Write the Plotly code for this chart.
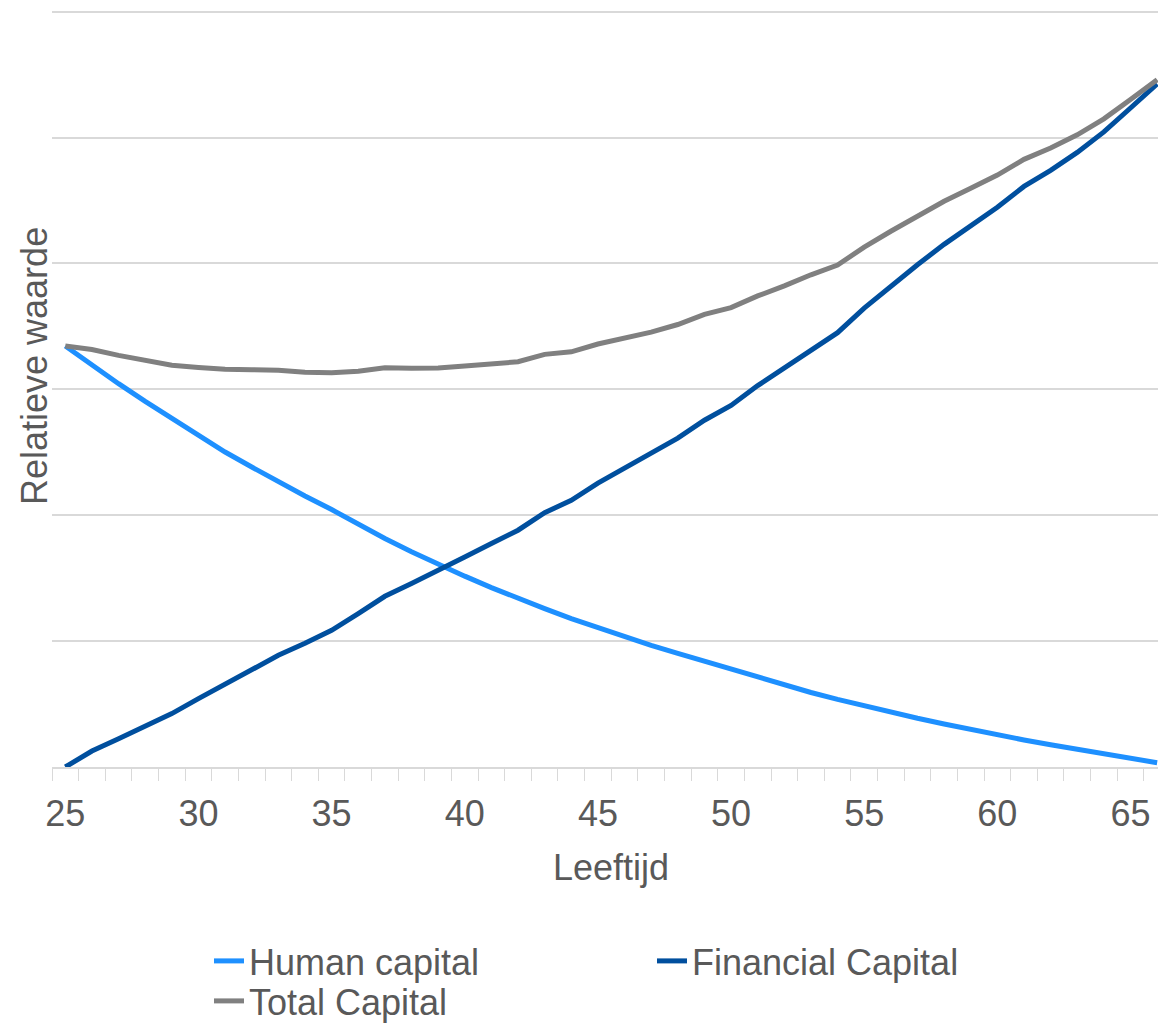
import plotly.graph_objects as go

# ---- data ----
ages = list(range(25, 67))
human_capital = [3.344, 3.190, 3.045, 2.904, 2.767, 2.630, 2.502, 2.383, 2.264, 2.153,
                 2.045, 1.925, 1.815, 1.710, 1.611, 1.516, 1.425, 1.338, 1.258, 1.179,
                 1.105, 1.035, 0.967, 0.903, 0.840, 0.777, 0.712, 0.650, 0.592, 0.537,
                 0.485, 0.434, 0.387, 0.342, 0.297, 0.255, 0.215, 0.177, 0.140, 0.104,
                 0.068, 0.034]
financial_capital = [0.000, 0.127, 0.225, 0.323, 0.424, 0.543, 0.657, 0.773, 0.887, 0.983,
                     1.086, 1.219, 1.356, 1.457, 1.558, 1.669, 1.775, 1.881, 2.020, 2.119,
                     2.255, 2.372, 2.488, 2.612, 2.755, 2.872, 3.030, 3.172, 3.318, 3.450,
                     3.645, 3.822, 3.990, 4.152, 4.301, 4.447, 4.612, 4.740, 4.882, 5.045,
                     5.235, 5.426]
total_capital = [3.344, 3.317, 3.270, 3.227, 3.191, 3.173, 3.159, 3.156, 3.151, 3.136,
                 3.131, 3.144, 3.171, 3.167, 3.169, 3.185, 3.200, 3.219, 3.278, 3.298,
                 3.360, 3.407, 3.455, 3.515, 3.595, 3.649, 3.742, 3.822, 3.910, 3.987,
                 4.130, 4.256, 4.377, 4.494, 4.598, 4.702, 4.827, 4.917, 5.022, 5.149,
                 5.303, 5.460]
series_names = ["Human capital", "Financial Capital", "Total Capital"]
x_tick_values = [25, 30, 35, 40, 45, 50, 55, 60, 65]
x_tick_labels = ["25", "30", "35", "40", "45", "50", "55", "60", "65"]
y_grid_values = [0, 1, 2, 3, 4, 5, 6]
x_title = "Leeftijd"
y_title = "Relatieve waarde"

# ---- layout geometry ----
W, H = 1158, 1029
L, R, T, B = 52, 0, 9, 262
px_per_year = 26.63
plot_w = W - L - R
plot_h = H - T - B
x_min = 24.5
x_max = x_min + plot_w / px_per_year
y_top = 6 * plot_h / (767 - 11.7)

def px_to_paper_x(px):
    return (px - L) / plot_w

def px_to_paper_y(py):
    return (H - B - py) / plot_h

FONT = "Arial, Liberation Sans, sans-serif"
TXT = "#595959"
GRID = "#d9d9d9"
colors = ["#1e90ff", "#004f9e", "#808080"]
legend_ids = ["legend", "legend", "legend2"]

fig = go.Figure()
for name, vals, col, lg in zip(series_names, [human_capital, financial_capital, total_capital],
                               colors, legend_ids):
    fig.add_trace(go.Scatter(x=ages, y=vals, mode="lines", name=name, legend=lg,
                             line=dict(color=col, width=5), hoverinfo="x+y"))

minor_ticks = [a - 0.5 for a in ages] + [ages[-1] + 0.5]

legend_common = dict(orientation="h", x=px_to_paper_x(209), xanchor="left", yanchor="top",
                     yref="container",
                     font=dict(family=FONT, size=36, color=TXT),
                     entrywidth=398, entrywidthmode="pixels",
                     bgcolor="rgba(0,0,0,0)", borderwidth=0)

fig.update_layout(
    width=W, height=H,
    margin=dict(l=L, r=R, t=T, b=B, pad=0, autoexpand=False),
    paper_bgcolor="white", plot_bgcolor="white",
    font=dict(family=FONT, size=36, color=TXT),
    showlegend=True,
    legend=dict(legend_common, y=1 - 931 / H),
    legend2=dict(legend_common, y=1 - 971 / H),
    xaxis=dict(range=[x_min, x_max], tickmode="array", tickvals=x_tick_values,
               ticktext=x_tick_labels, ticks="", showgrid=False, zeroline=False,
               showline=True, linecolor=GRID, linewidth=1.5,
               ticklabelstandoff=14,
               tickfont=dict(family=FONT, size=36, color=TXT),
               minor=dict(tickmode="array", tickvals=minor_ticks, ticks="outside",
                          ticklen=12, tickwidth=1.3, tickcolor=GRID, showgrid=False)),
    yaxis=dict(range=[0, y_top], tickmode="array", tickvals=y_grid_values,
               showticklabels=False, ticks="", showgrid=True, gridcolor=GRID,
               gridwidth=1.5, zeroline=False, showline=False),
    annotations=[
        dict(text=x_title, xref="paper", yref="paper", x=px_to_paper_x(611),
             y=px_to_paper_y(867), xanchor="center", yanchor="middle",
             showarrow=False, font=dict(family=FONT, size=36, color=TXT)),
        dict(text=y_title, xref="paper", yref="paper", x=px_to_paper_x(34),
             y=px_to_paper_y(366), xanchor="center", yanchor="middle",
             textangle=-90, showarrow=False, font=dict(family=FONT, size=36, color=TXT)),
    ],
)

fig.write_html("out.html", config={"displayModeBar": False},
               post_script="document.body.style.margin='0';")
